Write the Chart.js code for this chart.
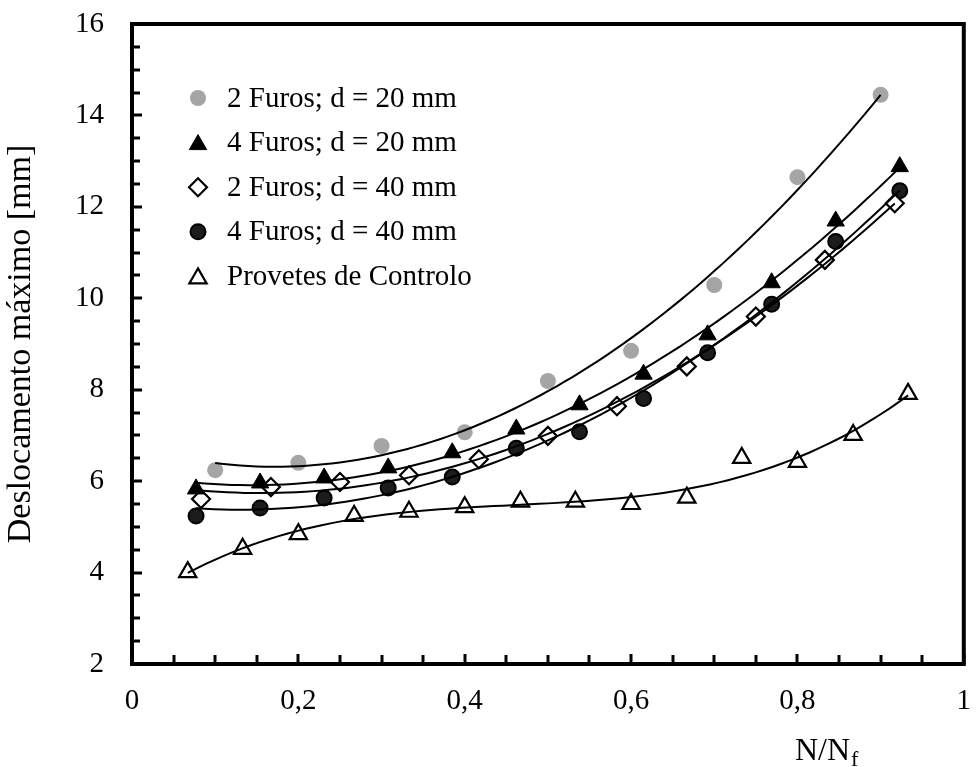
<!DOCTYPE html>
<html>
<head>
<meta charset="utf-8">
<script src="https://cdn.jsdelivr.net/npm/chart.js@4/dist/chart.umd.min.js"></script>
<style>
  html, body { margin: 0; padding: 0; background: #fff; }
  #wrap { width: 976px; height: 767px; }
</style>
</head>
<body>
<div id="wrap"><canvas id="c" width="976" height="767"></canvas></div>
<script>
// Maximum displacement vs. normalised life N/Nf
const seriesLabels = [
  '2 Furos; d = 20 mm',
  '4 Furos; d = 20 mm',
  '2 Furos; d = 40 mm',
  '4 Furos; d = 40 mm',
  'Provetes de Controlo'
];

const x2f20 = [0.1, 0.2, 0.3, 0.4, 0.5, 0.6, 0.7, 0.8, 0.9];
const y2f20 = [6.24, 6.40, 6.77, 7.07, 8.19, 8.85, 10.29, 12.65, 14.45];

const x4f20 = [0.077, 0.154, 0.231, 0.308, 0.385, 0.462, 0.538, 0.615, 0.692, 0.769, 0.846, 0.923];
const y4f20 = [5.83, 5.96, 6.07, 6.29, 6.62, 7.14, 7.67, 8.34, 9.20, 10.34, 11.69, 12.88];

const x2f40 = [0.083, 0.167, 0.25, 0.333, 0.417, 0.5, 0.583, 0.667, 0.75, 0.833, 0.917];
const y2f40 = [5.61, 5.87, 5.98, 6.13, 6.48, 6.99, 7.64, 8.51, 9.60, 10.84, 12.08];

const x4f40 = [0.077, 0.154, 0.231, 0.308, 0.385, 0.462, 0.538, 0.615, 0.692, 0.769, 0.846, 0.923];
const y4f40 = [5.24, 5.41, 5.63, 5.85, 6.09, 6.72, 7.08, 7.81, 8.81, 9.87, 11.24, 12.35];

const xCtrl = [0.067, 0.133, 0.2, 0.267, 0.333, 0.4, 0.467, 0.533, 0.6, 0.667, 0.733, 0.8, 0.867, 0.933];
const yCtrl = [4.01, 4.52, 4.84, 5.24, 5.33, 5.43, 5.55, 5.55, 5.50, 5.64, 6.51, 6.42, 7.01, 7.91];

// polynomial order of each series' trendline
const trendOrders = [2, 2, 2, 2, 3];

const xTickLabels = ['0', '0,2', '0,4', '0,6', '0,8', '1'];
const yTickLabels = ['2', '4', '6', '8', '10', '12', '14', '16'];

const FONT = "'Liberation Serif', 'Times New Roman', serif";

// Least-squares polynomial trendline of a series
function polyFit(xs, ys, order) {
  const n = order + 1;
  const A = [];
  for (let r = 0; r < n; r++) {
    const row = [];
    for (let c = 0; c < n; c++) {
      let s = 0;
      for (const x of xs) s += Math.pow(x, r + c);
      row.push(s);
    }
    let b = 0;
    xs.forEach((x, i) => { b += ys[i] * Math.pow(x, r); });
    row.push(b);
    A.push(row);
  }
  for (let i = 0; i < n; i++) {
    let p = i;
    for (let k = i + 1; k < n; k++) if (Math.abs(A[k][i]) > Math.abs(A[p][i])) p = k;
    [A[i], A[p]] = [A[p], A[i]];
    for (let k = i + 1; k < n; k++) {
      const f = A[k][i] / A[i][i];
      for (let c = i; c <= n; c++) A[k][c] -= f * A[i][c];
    }
  }
  const coef = new Array(n).fill(0);
  for (let i = n - 1; i >= 0; i--) {
    let s = A[i][n];
    for (let c = i + 1; c < n; c++) s -= A[i][c] * coef[c];
    coef[i] = s / A[i][i];
  }
  return coef;
}

function trendline(xs, ys, order) {
  const coef = polyFit(xs, ys, order);
  const x0 = Math.min(...xs), x1 = Math.max(...xs);
  const pts = [];
  const steps = 80;
  for (let i = 0; i <= steps; i++) {
    const x = x0 + (x1 - x0) * i / steps;
    let y = 0;
    coef.forEach((c, k) => { y += c * Math.pow(x, k); });
    pts.push({ x, y });
  }
  return pts;
}

const toPoints = (xs, ys) => xs.map((x, i) => ({ x, y: ys[i] }));

const markerStyles = [
  { pointStyle: 'circle',   radius: 8,   bg: '#a5a5a5', border: '#a5a5a5', bw: 0 },
  { pointStyle: 'triangle', radius: 10,  bg: '#000000', border: '#000000', bw: 1 },
  { pointStyle: 'rectRot',  radius: 9,   bg: '#ffffff', border: '#000000', bw: 2.2 },
  { pointStyle: 'circle',   radius: 7.5, bg: '#1c1c1c', border: '#000000', bw: 2 },
  { pointStyle: 'triangle', radius: 10,  bg: '#ffffff', border: '#000000', bw: 2.2 }
];

const seriesX = [x2f20, x4f20, x2f40, x4f40, xCtrl];
const seriesY = [y2f20, y4f20, y2f40, y4f40, yCtrl];

const datasets = [];
seriesX.forEach((xs, i) => {
  const m = markerStyles[i];
  datasets.push({
    type: 'scatter',
    label: seriesLabels[i],
    data: toPoints(xs, seriesY[i]),
    showLine: false,
    pointStyle: m.pointStyle,
    pointRadius: m.radius,
    pointHoverRadius: m.radius,
    pointBackgroundColor: m.bg,
    pointBorderColor: m.border,
    pointBorderWidth: m.bw,
    order: 2
  });
});
seriesX.forEach((xs, i) => {
  datasets.push({
    type: 'line',
    label: 'trend ' + i,
    data: trendline(xs, seriesY[i], trendOrders[i]),
    borderColor: '#000000',
    borderWidth: 2,
    pointRadius: 0,
    fill: false,
    tension: 0,
    order: 1
  });
});

// Frame, inward tick marks, legend and x-axis caption
const decorations = {
  id: 'decorations',
  afterDraw(chart) {
    const { ctx, chartArea: a, scales } = chart;
    const xs = scales.x, ys = scales.y;
    ctx.save();
    ctx.strokeStyle = '#000';
    ctx.lineCap = 'butt';

    // tick marks (major + minor), pointing into the plot
    ctx.lineWidth = 3;
    for (let v = 0; v <= 1.0001; v += 0.05) {
      const px = Math.round(xs.getPixelForValue(v));
      const major = Math.abs(v * 5 - Math.round(v * 5)) < 1e-6;
      ctx.beginPath();
      ctx.moveTo(px, a.bottom);
      ctx.lineTo(px, a.bottom - (major ? 10 : 9));
      ctx.stroke();
    }
    for (let v = 2; v <= 16.0001; v += 0.5) {
      const py = Math.round(ys.getPixelForValue(v));
      const major = Math.abs(v / 2 - Math.round(v / 2)) < 1e-6;
      ctx.beginPath();
      ctx.moveTo(a.left, py);
      ctx.lineTo(a.left + (major ? 10 : 8), py);
      ctx.stroke();
    }

    // plot frame
    ctx.lineWidth = 4;
    ctx.strokeRect(a.left, a.top, a.right - a.left, a.bottom - a.top);

    // legend
    const lx = 198, tx = 227, ly0 = 98, dy = 44.6;
    ctx.font = '29px ' + FONT;
    ctx.textBaseline = 'middle';
    ctx.textAlign = 'left';
    seriesLabels.forEach((lab, i) => {
      const m = markerStyles[i];
      const y = ly0 + i * dy;
      ctx.fillStyle = m.bg;
      ctx.strokeStyle = m.border;
      ctx.lineWidth = m.bw;
      Chart.helpers.drawPoint(ctx, {
        pointStyle: m.pointStyle, rotation: 0,
        radius: m.radius, borderWidth: m.bw
      }, lx, m.pointStyle === 'triangle' ? y + 2 : y);
      ctx.fillStyle = '#000';
      ctx.fillText(lab, tx, y + 1);
    });

    // x-axis caption N/Nf
    ctx.fillStyle = '#000';
    ctx.textBaseline = 'alphabetic';
    ctx.font = '32px ' + FONT;
    const base = 760, x0 = 795;
    ctx.fillText('N/N', x0, base);
    const w = ctx.measureText('N/N').width;
    ctx.font = '22px ' + FONT;
    ctx.fillText('f', x0 + w + 1, base + 6);
    ctx.restore();
  }
};

// keep the plot box at a fixed place: no extra room for edge labels
function noEdgePadding(s) {
  s.paddingLeft = 0; s.paddingRight = 0; s.paddingTop = 0; s.paddingBottom = 0;
}

new Chart(document.getElementById('c'), {
  data: { datasets },
  options: {
    responsive: false,
    animation: false,
    devicePixelRatio: 1,
    layout: { padding: { top: 24, right: 8, left: 0, bottom: 0 } },
    plugins: { legend: { display: false }, tooltip: { enabled: false } },
    scales: {
      x: {
        type: 'linear', min: 0, max: 1,
        afterFit(s) { s.height = 103; noEdgePadding(s); },
        grid: { display: false, drawTicks: false },
        border: { display: false },
        ticks: {
          stepSize: 0.2, padding: 20, color: '#000',
          font: { family: FONT, size: 29 },
          callback: (v, i) => xTickLabels[i]
        }
      },
      y: {
        type: 'linear', min: 2, max: 16,
        afterFit(s) { s.width = 132; noEdgePadding(s); },
        grid: { display: false, drawTicks: false },
        border: { display: false },
        ticks: {
          stepSize: 2, padding: 28, color: '#000',
          font: { family: FONT, size: 29 },
          callback: (v, i) => yTickLabels[i]
        },
        title: {
          display: true, text: 'Deslocamento máximo [mm]', color: '#000',
          font: { family: FONT, size: 34 }, padding: { top: 1, bottom: 0 }
        }
      }
    }
  },
  plugins: [decorations]
});
</script>
</body>
</html>
